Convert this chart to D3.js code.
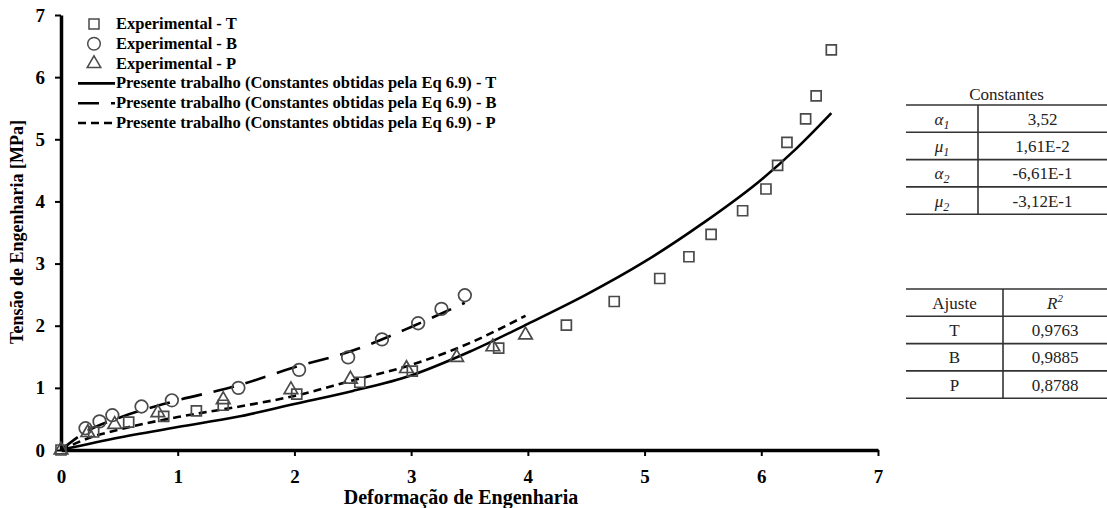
<!DOCTYPE html>
<html>
<head>
<meta charset="utf-8">
<script src="https://cdn.jsdelivr.net/npm/d3@7"></script>
<style>
  body { margin: 0; background: #fff; }
  svg { display: block; }
</style>
</head>
<body>
<div id="chart"></div>
<script>
// experimental points  [deformação, tensão]
const expT = [[0,0],[0.28,0.29],[0.58,0.45],[0.88,0.54],[1.16,0.63],[1.39,0.72],[2.02,0.9],[2.56,1.09],[3.01,1.27],[3.75,1.64],[4.33,2.01],[4.74,2.39],[5.13,2.76],[5.38,3.11],[5.57,3.47],[5.84,3.85],[6.04,4.2],[6.14,4.58],[6.22,4.95],[6.38,5.33],[6.47,5.7],[6.6,6.44]]
const expB = [[0.21,0.35],[0.33,0.46],[0.44,0.56],[0.69,0.7],[0.95,0.8],[1.52,1.0],[2.04,1.29],[2.46,1.49],[2.75,1.78],[3.06,2.04],[3.26,2.27],[3.46,2.49]]
const expP = [[0,0],[0.23,0.28],[0.46,0.41],[0.83,0.6],[1.39,0.81],[1.97,0.97],[2.48,1.14],[2.96,1.31],[3.39,1.49],[3.7,1.66],[3.98,1.85]]

// model curves (Presente trabalho)
const fitT = [[0,0],[0.5,0.2],[1,0.37],[1.5,0.53],[2,0.74],[2.5,0.95],[3,1.2],[3.5,1.58],[4,2.03],[4.5,2.5],[5,3.03],[5.5,3.65],[6,4.35],[6.3,4.85],[6.6,5.42]]
const fitB = [[0,0],[0.22,0.3],[0.5,0.52],[1,0.8],[1.5,1.03],[2,1.33],[2.5,1.6],[3,1.98],[3.46,2.37]]
const fitP = [[0,0],[0.25,0.2],[0.5,0.33],[1,0.53],[1.5,0.69],[2,0.87],[2.5,1.12],[3,1.37],[3.5,1.72],[3.98,2.16]]

const xTicks = [0,1,2,3,4,5,6,7]
const yTicks = [0,1,2,3,4,5,6,7]

const legendLabels = [
  "Experimental - T",
  "Experimental - B",
  "Experimental - P",
  "Presente trabalho (Constantes obtidas pela Eq 6.9) - T",
  "Presente trabalho (Constantes obtidas pela Eq 6.9) - B",
  "Presente trabalho (Constantes obtidas pela Eq 6.9) - P"
]

// tables on the right
const constSymbols = [["α","1"],["μ","1"],["α","2"],["μ","2"]]
const constValues = ["3,52","1,61E-2","-6,61E-1","-3,12E-1"]
const fitNames = ["T","B","P"]
const fitR2 = ["0,9763","0,9885","0,8788"]

const width = 1107, height = 508
const serif = "'Liberation Serif', 'Times New Roman', serif"
const markColor = "#4a4a4a"

const svg = d3.select("#chart").append("svg")
  .attr("width", width)
  .attr("height", height)
  .style("font-family", serif)

const x = d3.scaleLinear().domain([0, 7]).range([61, 878])
const y = d3.scaleLinear().domain([0, 7]).range([450, 15])

// axes
const gx = svg.append("g")
  .attr("transform", `translate(0,${y(0)})`)
  .call(d3.axisBottom(x).tickValues(xTicks).tickFormat(d3.format("d")).tickSize(6).tickSizeOuter(0).tickPadding(14))
const gy = svg.append("g")
  .attr("transform", `translate(${x(0)},0)`)
  .call(d3.axisLeft(y).tickValues(yTicks).tickFormat(d3.format("d")).tickSize(6).tickSizeOuter(0).tickPadding(10))

for (const g of [gx, gy]) {
  g.attr("font-family", serif)
  g.select(".domain").attr("stroke", "#000").attr("stroke-width", 3.5)
  g.selectAll(".tick line").attr("stroke", "#000").attr("stroke-width", 2)
  g.selectAll(".tick text")
    .attr("fill", "#000")
    .style("font-family", serif)
    .style("font-size", "19px")
    .style("font-weight", "bold")
}
gx.select(".tick line").remove()   // tick at 0 sits on the y axis

svg.append("text")
  .attr("x", 461).attr("y", 504)
  .attr("text-anchor", "middle")
  .style("font-size", "20px").style("font-weight", "bold")
  .text("Deformação de Engenharia")

svg.append("text")
  .attr("transform", "translate(23,232) rotate(-90)")
  .attr("text-anchor", "middle")
  .style("font-size", "18px").style("font-weight", "bold")
  .text("Tensão de Engenharia [MPa]")

// curves
const line = d3.line().x(d => x(d[0])).y(d => y(d[1])).curve(d3.curveMonotoneX)
const curves = [
  {data: fitT, dash: null},
  {data: fitB, dash: "21,12"},
  {data: fitP, dash: "8,5"}
]
svg.append("g").selectAll("path")
  .data(curves)
  .join("path")
  .attr("d", d => line(d.data))
  .attr("fill", "none")
  .attr("stroke", "#000")
  .attr("stroke-width", 2.6)
  .attr("stroke-dasharray", d => d.dash)

// markers
const square = d3.symbol().type(d3.symbolSquare).size(100)
const circle = d3.symbol().type(d3.symbolCircle).size(125)
const triangle = d3.symbol().type(d3.symbolTriangle).size(80)

function drawPoints(data, sym) {
  svg.append("g").selectAll("path")
    .data(data)
    .join("path")
    .attr("transform", d => `translate(${x(d[0])},${y(d[1])})`)
    .attr("d", sym)
    .attr("fill", "none")
    .attr("stroke", markColor)
    .attr("stroke-width", 1.7)
}
drawPoints(expT, square)
drawPoints(expB, circle)
drawPoints(expP, triangle)

// legend
const legend = svg.append("g").style("font-size", "16.5px").style("font-weight", "bold")
const legendSyms = [square, circle, triangle]
legendLabels.forEach((lab, i) => {
  const ly = 24 + i * 19.8
  if (i < 3) {
    legend.append("path")
      .attr("transform", `translate(94,${ly})`)
      .attr("d", legendSyms[i])
      .attr("fill", "none").attr("stroke", markColor).attr("stroke-width", 1.5)
  } else {
    legend.append("line")
      .attr("x1", 78).attr("x2", 115).attr("y1", ly).attr("y2", ly)
      .attr("stroke", "#000").attr("stroke-width", 2.6)
      .attr("stroke-dasharray", curves[i - 3].dash)
  }
  legend.append("text")
    .attr("x", 116).attr("y", ly + 5)
    .text(lab)
})

// tables
const tbl = svg.append("g").style("font-size", "17px").attr("fill", "#222")
const ruleColor = "#333"
const t1Left = 906, t1Div = 978, tRight = 1107
const rowH = 27.3

tbl.append("text").attr("x", (t1Left + tRight) / 2).attr("y", 100).attr("text-anchor", "middle").text("Constantes")
for (let i = 0; i <= constValues.length; i++) {
  tbl.append("line")
    .attr("x1", t1Left).attr("x2", tRight)
    .attr("y1", 105 + i * rowH).attr("y2", 105 + i * rowH)
    .attr("stroke", ruleColor).attr("stroke-width", 1.6)
}
tbl.append("line").attr("x1", t1Div).attr("x2", t1Div).attr("y1", 105).attr("y2", 105 + constValues.length * rowH)
  .attr("stroke", ruleColor).attr("stroke-width", 1.6)
constValues.forEach((v, i) => {
  const cy = 105 + i * rowH + rowH / 2 + 6
  const t = tbl.append("text").attr("x", (t1Left + t1Div) / 2).attr("y", cy).attr("text-anchor", "middle")
    .style("font-style", "italic")
  t.append("tspan").text(constSymbols[i][0])
  t.append("tspan").attr("dy", 4).style("font-size", "12px").text(constSymbols[i][1])
  tbl.append("text").attr("x", (t1Div + tRight) / 2).attr("y", cy).attr("text-anchor", "middle").text(v)
})

const t2Top = 289, t2Div = 1003
for (let i = 0; i <= fitNames.length + 1; i++) {
  tbl.append("line")
    .attr("x1", t1Left).attr("x2", tRight)
    .attr("y1", t2Top + i * rowH).attr("y2", t2Top + i * rowH)
    .attr("stroke", ruleColor).attr("stroke-width", 1.6)
}
tbl.append("line").attr("x1", t2Div).attr("x2", t2Div).attr("y1", t2Top).attr("y2", t2Top + (fitNames.length + 1) * rowH)
  .attr("stroke", ruleColor).attr("stroke-width", 1.6)
tbl.append("text").attr("x", (t1Left + t2Div) / 2).attr("y", t2Top + rowH / 2 + 6).attr("text-anchor", "middle").text("Ajuste")
const rh = tbl.append("text").attr("x", (t2Div + tRight) / 2).attr("y", t2Top + rowH / 2 + 6).attr("text-anchor", "middle")
  .style("font-style", "italic")
rh.append("tspan").text("R")
rh.append("tspan").attr("dy", -7).style("font-size", "11px").text("2")
fitNames.forEach((n, i) => {
  const cy = t2Top + (i + 1) * rowH + rowH / 2 + 6
  tbl.append("text").attr("x", (t1Left + t2Div) / 2).attr("y", cy).attr("text-anchor", "middle").text(n)
  tbl.append("text").attr("x", (t2Div + tRight) / 2).attr("y", cy).attr("text-anchor", "middle").text(fitR2[i])
})
</script>
</body>
</html>
